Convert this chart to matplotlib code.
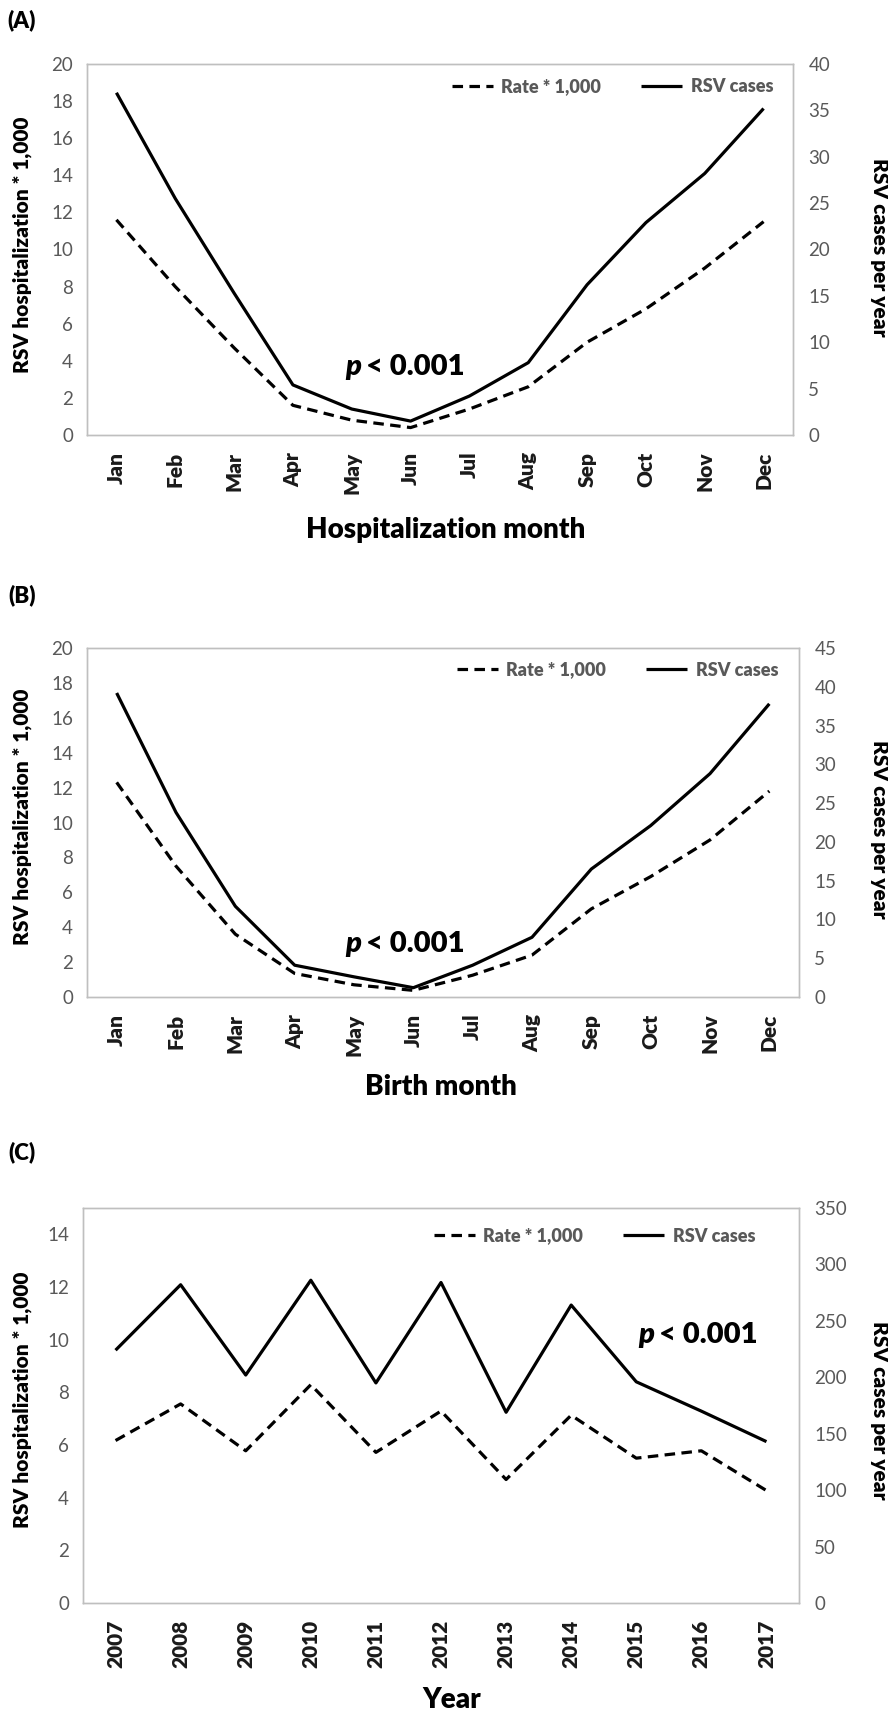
import matplotlib
matplotlib.use("Agg")
import matplotlib.pyplot as plt
from matplotlib.font_manager import FontProperties
import numpy as np

plt.rcParams['font.family'] = ['Lato', 'DejaVu Sans']

# ---- data ----
months = ['Jan', 'Feb', 'Mar', 'Apr', 'May', 'Jun',
          'Jul', 'Aug', 'Sep', 'Oct', 'Nov', 'Dec']
years = ['2007', '2008', '2009', '2010', '2011', '2012',
         '2013', '2014', '2015', '2016', '2017']

# (A) hospitalization month
rate_a = [11.6, 8.0, 4.7, 1.6, 0.8, 0.4, 1.4, 2.6, 5.0, 6.8, 9.0, 11.5]
cases_a = [36.9, 25.5, 15.3, 5.4, 2.8, 1.5, 4.2, 7.8, 16.2, 22.9, 28.2, 35.2]

# (B) birth month
rate_b = [12.3, 7.5, 3.6, 1.35, 0.7, 0.38, 1.25, 2.4, 5.05, 6.9, 9.0, 11.8]
cases_b = [39.2, 23.8, 11.7, 4.1, 2.6, 1.2, 4.1, 7.7, 16.5, 22.1, 28.8, 37.8]

# (C) year
rate_c = [6.17, 7.56, 5.78, 8.29, 5.72, 7.29, 4.69, 7.13, 5.5, 5.78, 4.27]
cases_c = [224, 282, 202, 286, 195, 284, 169, 264, 196, 170, 143]

W, H = 888, 1716
GRAY = '#595959'
SPINE = '#BFBFBF'
HEAVY = 'heavy'
TICKFONT = FontProperties(family='Lato', weight=HEAVY, size=15)

fig = plt.figure(figsize=(W / 100, H / 100), dpi=100)
renderer = fig.canvas.get_renderer()
xaxes = []


def px(x, y):
    return x / W, 1 - y / H


def panel(box, cats, rate, cases, left_max, left_ticks, right_max, right_ticks,
          xlabel, tag, tag_y, label_pos, p_pos, legend_pos):
    l, t, r, b = box
    ax = fig.add_axes([l / W, 1 - b / H, (r - l) / W, (b - t) / H])
    ax2 = ax.twinx()
    x = np.arange(len(cats))

    h1, = ax.plot(x, rate, color='black', lw=2.3, ls=(0, (3.3, 2.0)),
                  label='Rate * 1,000')
    h2, = ax2.plot(x, cases, color='black', lw=2.3, label='RSV cases',
                   solid_capstyle='butt')

    ax.set_xlim(-0.5, len(cats) - 0.5)
    ax.set_ylim(0, left_max)
    ax.set_yticks(left_ticks)
    ax2.set_ylim(0, right_max)
    ax2.set_yticks(right_ticks)

    for a in (ax, ax2):
        for s in a.spines.values():
            s.set_color(SPINE)
            s.set_linewidth(1.0)
        a.tick_params(axis='y', length=0, labelsize=13.5, labelcolor=GRAY)
    ax.tick_params(axis='y', pad=10)
    ax2.tick_params(axis='y', pad=11)
    ax.tick_params(axis='x', length=0, pad=12, labelcolor='#1a1a1a')
    ax.set_xticks(x, cats, rotation=90)
    xaxes.append(ax)

    # axis titles
    lx, ly, rx, ry, xx, xy = label_pos
    fig.text(*px(lx, ly), 'RSV hospitalization * 1,000', rotation=90,
             ha='center', va='center', fontsize=15, fontweight=HEAVY)
    fig.text(*px(rx, ry), 'RSV cases per year', rotation=270,
             ha='center', va='center', fontsize=15, fontweight=HEAVY)
    fig.text(*px(xx, xy), xlabel, ha='center', va='center',
             fontsize=20, fontweight=HEAVY)
    fig.text(*px(22, tag_y), tag, ha='center', va='center',
             fontsize=16, fontweight=HEAVY)

    # significance: bold italic p followed by the bold rest
    pt = fig.text(*px(*p_pos), 'p', ha='left', va='baseline', fontsize=21,
                  fontweight=HEAVY, fontstyle='italic')
    ext = pt.get_window_extent(renderer)
    fig.text(*px(ext.x1 + 5, p_pos[1]), '< 0.001', ha='left', va='baseline',
             fontsize=21, fontweight=HEAVY)

    ax2.legend([h1, h2], ['Rate * 1,000', 'RSV cases'], ncol=2,
               loc='center right', bbox_to_anchor=px(*legend_pos),
               bbox_transform=fig.transFigure, frameon=False,
               borderpad=0, borderaxespad=0, handlelength=2.3,
               handletextpad=0.45, columnspacing=2.2,
               prop={'family': 'Lato', 'weight': HEAVY, 'size': 13},
               labelcolor=GRAY)
    return ax, ax2


panel((87, 64, 793, 435), months, rate_a, cases_a,
      20, np.arange(0, 21, 2), 40, np.arange(0, 41, 5),
      'Hospitalization month', '(A)', 20,
      (22, 245, 879, 247, 446, 530), (345, 375), (773, 87))

panel((87, 648, 799, 997), months, rate_b, cases_b,
      20, np.arange(0, 21, 2), 45, np.arange(0, 46, 5),
      'Birth month', '(B)', 595,
      (22, 817, 879, 829, 441, 1087), (345, 952), (778, 670))

panel((83, 1208, 799, 1603), years, rate_c, cases_c,
      15, np.arange(0, 15, 2), 350, np.arange(0, 351, 50),
      'Year', '(C)', 1152,
      (22, 1400, 879, 1410, 452, 1700), (638, 1343), (755, 1236))

fig.canvas.draw()
for ax in xaxes:
    for lbl in ax.get_xticklabels():
        lbl.set_fontproperties(TICKFONT)
        lbl.set_color('#1a1a1a')

fig.savefig('out.png', dpi=100)
